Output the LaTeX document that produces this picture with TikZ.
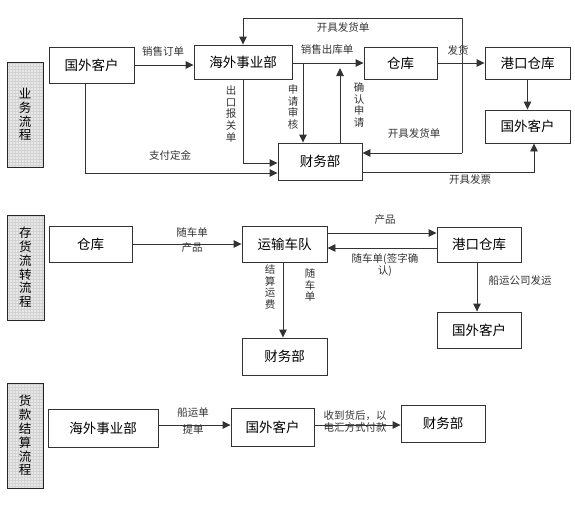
\documentclass[tikz,border=0pt]{standalone}
\usepackage{fontspec}
\setmainfont{Noto Sans CJK SC}
\usepackage{tikz}
\usetikzlibrary{arrows.meta, patterns}

\begin{document}
\begin{tikzpicture}[
    x=1pt, y=-1pt,
    line width=0.9pt, draw=black!75,
    box/.style={rectangle, draw=black!80, minimum width=84pt, minimum height=36pt, align=center, font=\fontsize{13.5}{15}\selectfont},
    side/.style={rectangle, draw=black!85, line width=1pt, minimum width=36pt, minimum height=105pt, align=center, preaction={fill=gray!18}, pattern=grid, pattern color=gray!35, font=\fontsize{12.5}{13.8}\selectfont},
    lbl/.style={font=\fontsize{10.5}{12}\selectfont, text=black!80, inner sep=1pt},
    vlbl/.style={lbl, align=center, font=\fontsize{10.5}{11.6}\selectfont},
    arrow/.style={-{Triangle[length=8pt, width=7.5pt]}, draw=black!80}
]
\useasboundingbox (0,0) rectangle (575,507);

% business flow
\node[side] (side1) at (25,114.5) {业\\务\\流\\程};
\node[box, minimum width=85pt] (kh1) at (91.5,65) {国外客户};
\node[box, minimum width=98pt, minimum height=34pt] (hw1) at (243,62) {海外事业部};
\node[box, minimum width=73pt, minimum height=32pt] (ck1) at (400.5,63) {仓库};
\node[box, minimum width=85pt, minimum height=32pt] (gk1) at (527.5,63) {港口仓库};
\node[box, minimum width=85pt, minimum height=33pt] (kh1b) at (527.5,126.5) {国外客户};
\node[box, minimum height=37pt] (cw1) at (320,161.5) {财务部};

\coordinate (top) at (462,18);
\coordinate (bot) at (462,153);
\coordinate (sq) at (303,63);
\coordinate (qr) at (340,68);

\draw[arrow] (kh1.east) -- (kh1.east -| hw1.west);
\draw[arrow] (ck1.west -| hw1.east) -- (ck1.west);
\draw[arrow] (ck1.east) -- (gk1.west);
\draw[arrow] (gk1.south) -- (kh1b.north);
\draw (top) -- (bot);
\draw[arrow] (top) -| (hw1.north);
\draw[arrow] (bot) -- (bot -| cw1.east);
\draw[arrow] (hw1.south) |- (cw1.west |- 0,163);
\draw[arrow] (kh1.south -| 85,0) |- (cw1.west |- 0,173);
\draw[arrow] (sq) -- (sq |- cw1.north);
\draw[arrow] (qr |- cw1.north) -- (qr);
\draw[arrow] (cw1.east |- 0,172) -| (kh1b.south -| 534,0);

\node[lbl] at (163,52) {销售订单};
\node[lbl] at (343,28) {开具发货单};
\node[lbl] at (327,50) {销售出库单};
\node[lbl] at (458,50) {发货};
\node[vlbl] at (231,114) {出\\口\\报\\关\\单};
\node[vlbl] at (293,107) {申\\请\\审\\核};
\node[vlbl] at (359,105) {确\\认\\申\\请};
\node[lbl] at (414,133) {开具发货单};
\node[lbl] at (170,155) {支付定金};
\node[lbl] at (470,180) {开具发票};

% stock flow
\node[side, minimum width=37pt] (side2) at (25.5,267.5) {存\\货\\流\\转\\流\\程};
\node[box, minimum width=83pt] (ck2) at (90.5,244) {仓库};
\node[box, minimum width=85pt] (ys2) at (284.5,244) {运输车队};
\node[box, minimum height=35pt] (gk2) at (479,244.5) {港口仓库};
\node[box] (kh2) at (479,330) {国外客户};
\node[box, minimum width=85pt, minimum height=37pt] (cw2) at (284.5,356.5) {财务部};

\draw[arrow] (ck2.east) -- (ys2.west);
\draw[arrow] (ys2.east |- 0,233) -- (gk2.west |- 0,233);
\draw[arrow] (gk2.west |- 0,248) -- (ys2.east |- 0,248);
\draw[arrow] (gk2.south -| 477,0) -- (kh2.north -| 477,0);
\draw[arrow] (ys2.south -| 283,0) -- (cw2.north -| 283,0);

\node[lbl] at (192,232) {随车单};
\node[lbl] at (192,248) {产品};
\node[lbl] at (385,220) {产品};
\node[lbl, align=center] at (385,265) {随车单(签字确\\认)};
\node[lbl] at (520,281) {船运公司发运};
\node[vlbl] at (270,287) {结\\算\\运\\费};
\node[vlbl] at (310,285) {随\\车\\单};

% payment flow
\node[side] (side3) at (25,435.5) {货\\款\\结\\算\\流\\程};
\node[box, minimum width=110pt, minimum height=38pt] (hw3) at (103,428) {海外事业部};
\node[box, minimum width=83pt, minimum height=38pt] (kh3) at (272.5,427) {国外客户};
\node[box, minimum height=37pt] (cw3) at (443,423.5) {财务部};

\draw[arrow] (hw3.east |- 0,425) -- (kh3.west |- 0,425);
\draw[arrow] (kh3.east |- 0,425) -- (cw3.west |- 0,425);

\node[lbl] at (193,413) {船运单};
\node[lbl] at (193,430) {提单};
\node[lbl, align=center] at (355,421) {收到货后，以\\电汇方式付款};

\end{tikzpicture}
\end{document}
